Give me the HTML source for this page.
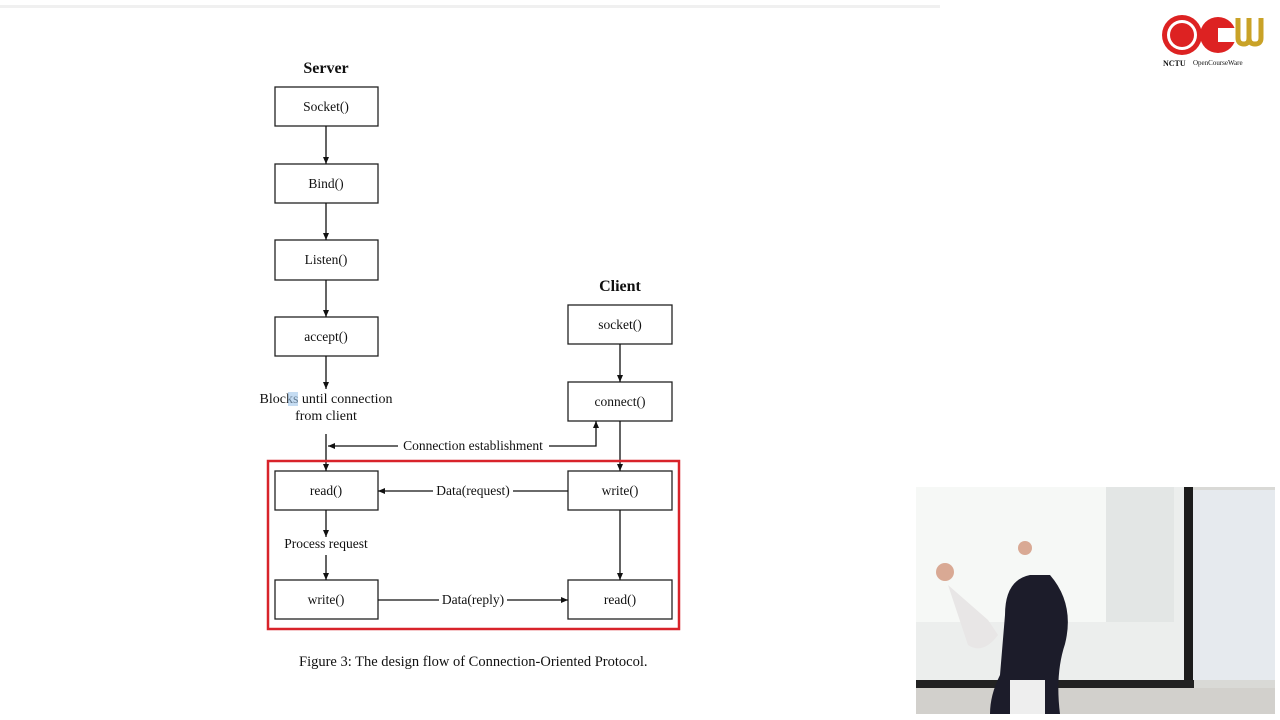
<!DOCTYPE html>
<html><head><meta charset="utf-8"><style>
html,body{margin:0;padding:0;background:#fff;width:1280px;height:720px;overflow:hidden}
svg{display:block}
text{font-family:"Liberation Serif",serif;fill:#111}
</style></head><body>
<svg width="1280" height="720" viewBox="0 0 1280 720">
<defs><marker id="a" markerWidth="8" markerHeight="8" refX="7" refY="4" orient="auto" markerUnits="userSpaceOnUse"><path d="M0,1 L7,4 L0,7 z" fill="#111"/></marker></defs>
<rect x="0" y="5" width="940" height="3" fill="#f0f0f0"/>
<text x="326" y="73" font-size="16" font-weight="bold" text-anchor="middle">Server</text>
<text x="620" y="291" font-size="16" font-weight="bold" text-anchor="middle">Client</text>
<g fill="#fff" stroke="#222" stroke-width="1.3">
<rect x="275" y="87" width="103" height="39"/>
<rect x="275" y="164" width="103" height="39"/>
<rect x="275" y="240" width="103" height="40"/>
<rect x="275" y="317" width="103" height="39"/>
<rect x="275" y="471" width="103" height="39"/>
<rect x="275" y="580" width="103" height="39"/>
<rect x="568" y="305" width="104" height="39"/>
<rect x="568" y="382" width="104" height="39"/>
<rect x="568" y="471" width="104" height="39"/>
<rect x="568" y="580" width="104" height="39"/>
</g>
<g font-size="13.5" text-anchor="middle">
<text x="326" y="111">Socket()</text>
<text x="326" y="188">Bind()</text>
<text x="326" y="264">Listen()</text>
<text x="326" y="341">accept()</text>
<text x="326" y="495">read()</text>
<text x="326" y="604">write()</text>
<text x="620" y="329">socket()</text>
<text x="620" y="406">connect()</text>
<text x="620" y="495">write()</text>
<text x="620" y="604">read()</text>
<text x="326" y="403" font-size="14">Blocks until connection</text>
<text x="326" y="420" font-size="14">from client</text>
<text x="326" y="548">Process request</text>
<text x="473" y="450">Connection establishment</text>
<text x="473" y="495">Data(request)</text>
<text x="473" y="604">Data(reply)</text>
</g>
<rect x="288" y="392" width="10" height="14" fill="#9fc4ea" opacity="0.6"/>
<g stroke="#111" stroke-width="1.3" fill="none" marker-end="url(#a)">
<line x1="326" y1="126" x2="326" y2="164"/>
<line x1="326" y1="203" x2="326" y2="240"/>
<line x1="326" y1="280" x2="326" y2="317"/>
<line x1="326" y1="356" x2="326" y2="389"/>
<line x1="326" y1="434" x2="326" y2="471"/>
<line x1="326" y1="510" x2="326" y2="537"/>
<line x1="326" y1="555" x2="326" y2="580"/>
<line x1="620" y1="344" x2="620" y2="382"/>
<line x1="620" y1="421" x2="620" y2="471"/>
<line x1="620" y1="510" x2="620" y2="580"/>
<line x1="398" y1="446" x2="328" y2="446"/>
<polyline points="549,446 596,446 596,421"/>
<line x1="433" y1="491" x2="378" y2="491"/>
<line x1="507" y1="600" x2="568" y2="600"/>
</g>
<g stroke="#111" stroke-width="1.3">
<line x1="513" y1="491" x2="568" y2="491"/>
<line x1="378" y1="600" x2="439" y2="600"/>
</g>
<rect x="268" y="461" width="411" height="168" fill="none" stroke="#d8232a" stroke-width="2.5"/>
<text x="299" y="666" font-size="14.5">Figure 3:  The design flow of Connection-Oriented Protocol.</text>
<!-- logo -->
<circle cx="1182" cy="35" r="20" fill="#d22"/>
<circle cx="1182" cy="35" r="15" fill="#fff"/>
<circle cx="1182" cy="35" r="12" fill="#d22"/>
<circle cx="1218" cy="35" r="18" fill="#d22"/>
<rect x="1218" y="28" width="20" height="14" fill="#fff"/>
<path d="M1238,18 v20 q0,6 6,6 q5,0 5,-6 v-20 M1249,18 v20 q0,6 6,6 q6,0 6,-6 v-20" stroke="#c9a227" stroke-width="5" fill="none"/>
<text x="1163" y="66" font-size="8" font-weight="bold">NCTU</text>
<text x="1193" y="65" font-size="7" fill="#333">OpenCourseWare</text>
<!-- video inset -->
<g>
<rect x="916" y="487" width="359" height="227" fill="#d9d9d6"/>
<rect x="916" y="487" width="270" height="200" fill="#eceeed"/>
<rect x="916" y="487" width="190" height="135" fill="#f6f8f6"/>
<rect x="1106" y="487" width="68" height="135" fill="#e3e6e5"/>
<rect x="1184" y="487" width="9" height="208" fill="#1c1c1c"/>
<rect x="916" y="680" width="278" height="8" fill="#222"/>
<rect x="1193" y="490" width="82" height="190" fill="#e6eaee"/>
<rect x="916" y="688" width="359" height="26" fill="#d2d0cc"/>
<path d="M1030,575 q-25,5 -25,40 l-5,60 q-10,20 -10,39 h70 q-5,-40 5,-70 q10,-40 -15,-69 z" fill="#1c1c2a"/>
<path d="M948,585 l20,60 q15,10 30,-10 l-10,-15 z" fill="#e8e6e6"/>
<circle cx="945" cy="572" r="9" fill="#d9a994"/>
<circle cx="1025" cy="548" r="7" fill="#d9a994"/>
<rect x="1010" y="680" width="35" height="34" fill="#eee"/>
</g>
</svg>
</body></html>
